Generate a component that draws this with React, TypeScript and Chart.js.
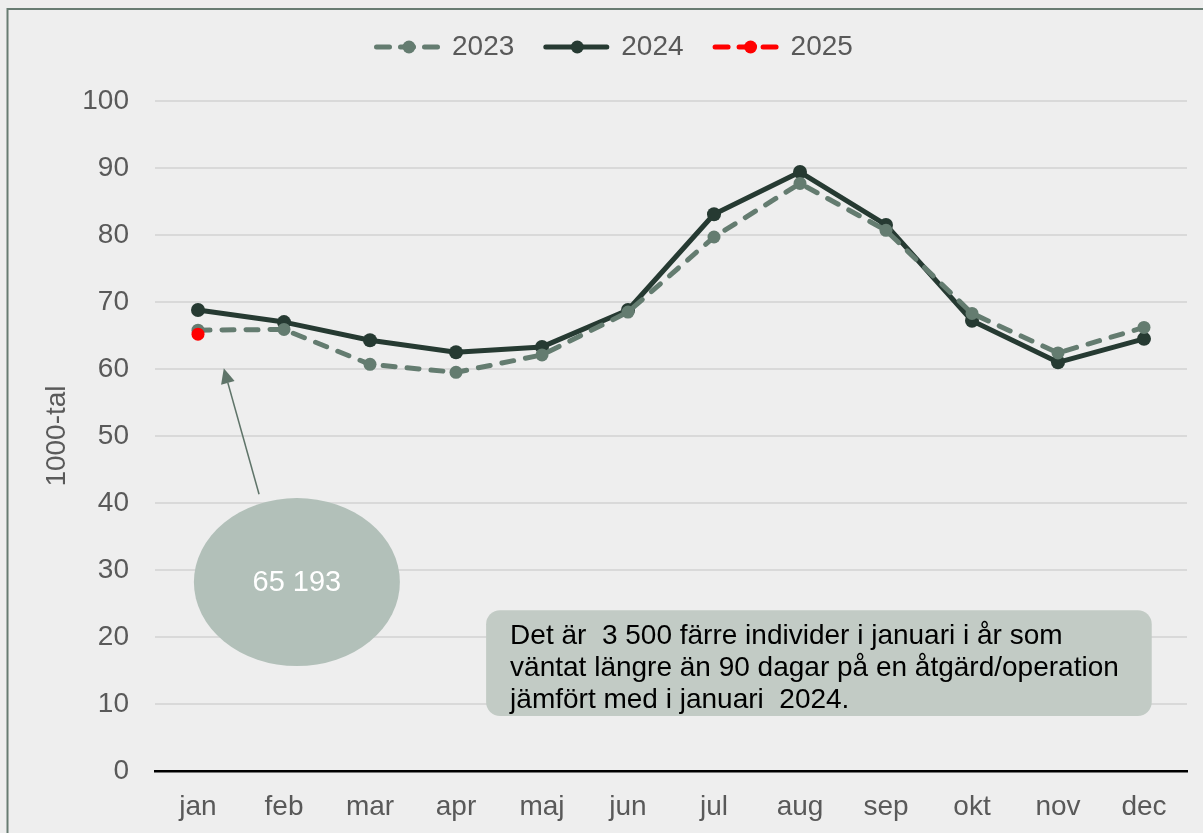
import { useEffect, useRef } from "react";
import { Chart, registerables } from "chart.js";

Chart.register(...registerables);

const months = ["jan", "feb", "mar", "apr", "maj", "jun", "jul", "aug", "sep", "okt", "nov", "dec"];
const values2023 = [65.8, 65.9, 60.7, 59.5, 62.1, 68.5, 79.7, 87.7, 80.7, 68.3, 62.4, 66.2];
const values2024 = [68.8, 67.0, 64.3, 62.5, 63.3, 68.8, 83.1, 89.4, 81.5, 67.2, 61.0, 64.5];
const values2025 = [65.193, null, null, null, null, null, null, null, null, null, null, null];
const seriesLabels = ["2023", "2024", "2025"];
const yMin = 0;
const yMax = 100;
const yStep = 10;
const yTitle = "1000-tal";
const bubbleLabel = "65 193";
const noteLines = [
  "Det är  3 500 färre individer i januari i år som",
  "väntat längre än 90 dagar på en åtgärd/operation",
  "jämfört med i januari  2024.",
];

const FONT = '"Liberation Sans", Arial, sans-serif';
const TEXT = "#595959";
const C2023 = "#647c70";
const C2024 = "#263a32";
const C2025 = "#ff0000";

const framePlugin = {
  id: "frame",
  beforeDraw(chart: any) {
    const { ctx, width, height } = chart;
    ctx.save();
    ctx.fillStyle = "#eeeeee";
    ctx.fillRect(0, 0, width, height);
    ctx.strokeStyle = "#687c72";
    ctx.lineWidth = 2;
    ctx.beginPath();
    ctx.moveTo(7.5, height + 5);
    ctx.lineTo(7.5, 9);
    ctx.lineTo(width + 5, 9);
    ctx.stroke();
    ctx.restore();
  },
};

const annotationPlugin = {
  id: "notes",
  beforeDatasetsDraw(chart: any) {
    const { ctx } = chart;
    const xs = chart.scales.x;
    const ys = chart.scales.y;
    ctx.save();
    // bubble
    const cx = xs.getPixelForValue(1.15);
    const cy = ys.getPixelForValue(28.2);
    ctx.fillStyle = "#b2c0b9";
    ctx.beginPath();
    ctx.ellipse(cx, cy, 103, 84, 0, 0, Math.PI * 2);
    ctx.fill();
    ctx.fillStyle = "#ffffff";
    ctx.font = `29px ${FONT}`;
    ctx.textAlign = "center";
    ctx.textBaseline = "middle";
    ctx.fillText(bubbleLabel, cx, cy + 1);

    // arrow
    const ax0 = xs.getPixelForValue(0.71);
    const ay0 = ys.getPixelForValue(41.3);
    const ax1 = xs.getPixelForValue(0.3);
    const ay1 = ys.getPixelForValue(60.1);
    const ang = Math.atan2(ay1 - ay0, ax1 - ax0);
    const headLen = 15;
    const headW = 7;
    const bx = ax1 - headLen * Math.cos(ang);
    const by = ay1 - headLen * Math.sin(ang);
    ctx.strokeStyle = "#5f7469";
    ctx.fillStyle = "#5f7469";
    ctx.lineWidth = 1.5;
    ctx.beginPath();
    ctx.moveTo(ax0, ay0);
    ctx.lineTo(bx, by);
    ctx.stroke();
    ctx.beginPath();
    ctx.moveTo(ax1, ay1);
    ctx.lineTo(bx + headW * Math.sin(ang), by - headW * Math.cos(ang));
    ctx.lineTo(bx - headW * Math.sin(ang), by + headW * Math.cos(ang));
    ctx.closePath();
    ctx.fill();

    // note box
    const x0 = xs.getPixelForValue(3.35);
    const x1 = xs.getPixelForValue(11.09);
    const y0 = ys.getPixelForValue(24.0);
    const y1 = ys.getPixelForValue(8.2);
    ctx.fillStyle = "#c2cbc5";
    ctx.beginPath();
    ctx.roundRect(x0, y0, x1 - x0, y1 - y0, 14);
    ctx.fill();
    ctx.fillStyle = "#000000";
    ctx.font = `28px ${FONT}`;
    ctx.textAlign = "left";
    ctx.textBaseline = "alphabetic";
    noteLines.forEach((line, i) => {
      ctx.fillText(line, x0 + 24, y0 + 34 + i * 32);
    });
    ctx.restore();
  },
};

const legendPlugin = {
  id: "customLegend",
  afterDraw(chart: any) {
    const { ctx } = chart;
    const order = [0, 1, 2];
    const markerShift = [2, 1, 5];
    let sx = 374;
    const y = 47;
    ctx.save();
    ctx.font = `28px ${FONT}`;
    ctx.textBaseline = "middle";
    ctx.textAlign = "left";
    order.forEach((i, k) => {
      const ds = chart.data.datasets[i];
      const lineLen = 66;
      ctx.strokeStyle = ds.borderColor;
      ctx.lineWidth = 5;
      ctx.lineCap = "round";
      ctx.setLineDash(ds.borderDash && ds.borderDash.length ? [13, 11] : []);
      ctx.beginPath();
      ctx.moveTo(sx + 2.5, y);
      ctx.lineTo(sx + lineLen - 2.5, y);
      ctx.stroke();
      ctx.setLineDash([]);
      ctx.fillStyle = ds.pointBackgroundColor;
      ctx.beginPath();
      ctx.arc(sx + lineLen / 2 + markerShift[k], y, 6.5, 0, Math.PI * 2);
      ctx.fill();
      const tx = sx + lineLen + 12;
      ctx.fillStyle = TEXT;
      ctx.fillText(ds.label, tx, y);
      sx = tx + ctx.measureText(ds.label).width + 29;
    });
    ctx.restore();
  },
};

export default function App() {
  const ref = useRef<HTMLCanvasElement | null>(null);

  useEffect(() => {
    if (!ref.current) return;
    const chart = new Chart(ref.current, {
      type: "line",
      data: {
        labels: months,
        datasets: [
          {
            label: seriesLabels[0],
            data: values2023,
            borderColor: C2023,
            backgroundColor: C2023,
            pointBackgroundColor: C2023,
            pointBorderWidth: 0,
            pointRadius: 6.5,
            borderWidth: 5,
            borderDash: [12, 12],
            borderCapStyle: "round",
            borderJoinStyle: "round",
            order: 1,
          },
          {
            label: seriesLabels[1],
            data: values2024,
            borderColor: C2024,
            backgroundColor: C2024,
            pointBackgroundColor: C2024,
            pointBorderWidth: 0,
            pointRadius: 7,
            borderWidth: 5,
            borderCapStyle: "round",
            borderJoinStyle: "round",
            order: 2,
          },
          {
            label: seriesLabels[2],
            data: values2025,
            borderColor: C2025,
            backgroundColor: C2025,
            pointBackgroundColor: C2025,
            pointBorderWidth: 0,
            pointRadius: 6.5,
            borderWidth: 5,
            borderDash: [12, 12],
            borderCapStyle: "round",
            order: 0,
          },
        ] as any,
      },
      options: {
        responsive: false,
        animation: false,
        layout: { padding: { left: 10, top: 101, right: 16, bottom: 0 } },
        plugins: {
          legend: { display: false },
          tooltip: { enabled: false },
        },
        scales: {
          x: {
            offset: true,
            grid: { display: false, drawTicks: false },
            border: { display: true, color: "#000000", width: 2.5 },
            ticks: {
              color: TEXT,
              font: { family: FONT, size: 28 },
              padding: 19,
              maxRotation: 0,
              autoSkip: false,
            },
            afterFit(scale: any) {
              scale.height = 62;
            },
          },
          y: {
            min: yMin,
            max: yMax,
            ticks: {
              stepSize: yStep,
              color: TEXT,
              font: { family: FONT, size: 28 },
              padding: 26,
            },
            grid: {
              drawTicks: false,
              lineWidth: 2,
              color: (c: any) => (c.tick && c.tick.value === 0 ? "rgba(0,0,0,0)" : "#d9d9d9"),
            },
            border: { display: false },
            title: {
              display: true,
              text: yTitle,
              color: TEXT,
              font: { family: FONT, size: 28, weight: "normal" },
              padding: { top: 30, bottom: 0 },
            },
            afterFit(scale: any) {
              scale.width = 145;
            },
          },
        },
      },
      plugins: [framePlugin, annotationPlugin, legendPlugin],
    } as any);
    return () => chart.destroy();
  }, []);

  return (
    <canvas
      ref={ref}
      width={1203}
      height={833}
      style={{ position: "fixed", left: 0, top: 0, width: 1203, height: 833 }}
    />
  );
}
